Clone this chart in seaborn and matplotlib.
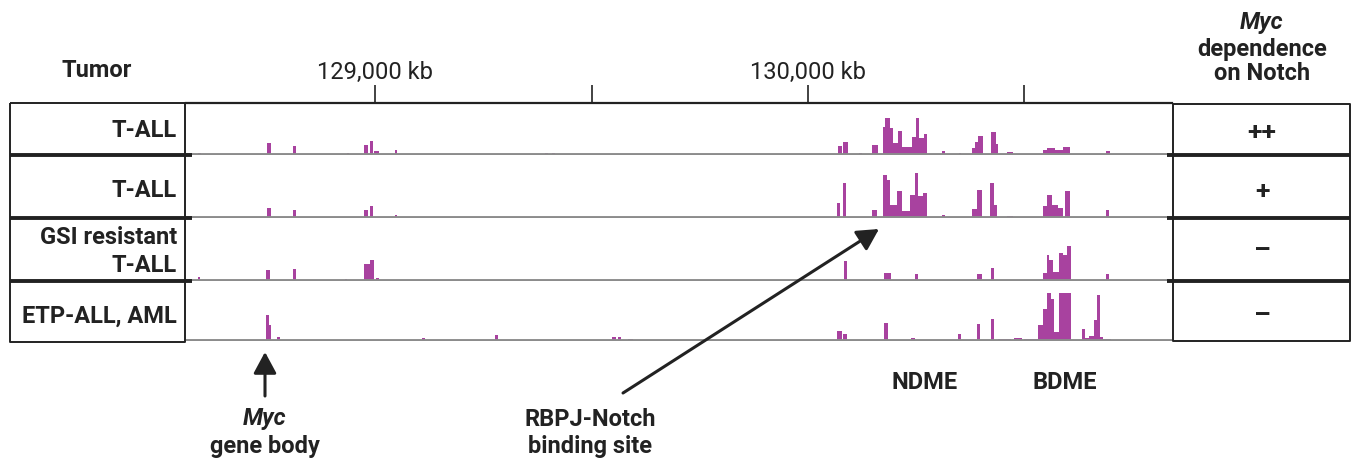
import numpy as np
import pandas as pd
import matplotlib
matplotlib.use("Agg")
import matplotlib.pyplot as plt
import seaborn as sns

# row labels / right column
tumors = ["T-ALL", "T-ALL", "GSI resistant\nT-ALL", "ETP-ALL, AML"]
dependence = ["++", "+", "\u2013", "\u2013"]

# genome ruler (kb)
tick_kb = [129000, 129500, 130000, 130500]
tick_labels = ["129,000 kb", "", "130,000 kb", ""]
view_kb = (128563, 130841)

# peaks per track: (start kb, end kb, signal)
peaks_tall_1 = [
    (128591, 128598, 2), (128751, 128760, 12), (128811, 128818, 9), (128935, 128940, 2),
    (128975, 128984, 10), (128988, 128995, 14), (128997, 129010, 4), (129046, 129051, 5),
    (129393, 129400, 2), (129408, 129416, 2),
    (130069, 130078, 9), (130081, 130092, 13), (130118, 130125, 2), (130148, 130162, 10),
    (130173, 130178, 28), (130178, 130189, 37), (130189, 130196, 27), (130196, 130208, 12),
    (130208, 130217, 24), (130217, 130240, 8), (130240, 130249, 18), (130249, 130256, 37),
    (130256, 130268, 17), (130268, 130275, 21), (130310, 130316, 4), (130349, 130354, 2),
    (130379, 130386, 7), (130386, 130393, 13), (130393, 130404, 19), (130423, 130434, 23),
    (130434, 130439, 11), (130460, 130473, 3), (130543, 130552, 5), (130552, 130570, 7),
    (130570, 130589, 5), (130589, 130605, 8), (130688, 130697, 4),
]
peaks_tall_2 = [
    (128596, 128600, 1), (128751, 128760, 10), (128811, 128818, 8), (128975, 128984, 8),
    (128988, 128995, 12), (129046, 129051, 3),
    (130067, 130074, 15), (130081, 130088, 35), (130148, 130159, 8), (130173, 130182, 43),
    (130182, 130189, 38), (130189, 130206, 13), (130206, 130217, 27), (130217, 130236, 7),
    (130236, 130247, 23), (130247, 130254, 45), (130254, 130266, 22), (130266, 130275, 25),
    (130310, 130316, 3), (130379, 130390, 9), (130390, 130402, 28), (130420, 130430, 35),
    (130430, 130437, 13), (130460, 130473, 2), (130543, 130552, 12), (130552, 130564, 23),
    (130564, 130577, 13), (130577, 130589, 10), (130594, 130605, 27), (130688, 130695, 8),
]
peaks_gsi = [
    (128591, 128596, 4), (128748, 128757, 11), (128811, 128816, 12), (128931, 128935, 2),
    (128975, 128988, 17), (128988, 128998, 21), (129003, 129008, 3),
    (130083, 130090, 20), (130176, 130192, 8), (130247, 130254, 7), (130390, 130402, 7),
    (130422, 130429, 13), (130543, 130552, 8), (130552, 130557, 26), (130557, 130566, 21),
    (130566, 130580, 9), (130580, 130589, 28), (130589, 130598, 26), (130598, 130607, 35),
    (130688, 130695, 7),
]
peaks_etp = [
    (128748, 128755, 26), (128755, 128760, 16), (128774, 128781, 4), (128931, 128935, 1),
    (128990, 129012, 1), (129062, 129066, 1), (129109, 129115, 3), (129196, 129200, 1),
    (129277, 129284, 6), (129510, 129516, 1), (129548, 129556, 4), (129560, 129568, 4),
    (129585, 129595, 2), (129670, 129680, 1),
    (130067, 130079, 10), (130081, 130090, 7), (130176, 130185, 18), (130238, 130247, 3),
    (130346, 130353, 7), (130390, 130397, 17), (130423, 130430, 22), (130440, 130470, 2),
    (130475, 130495, 3), (130500, 130531, 2), (130531, 130543, 16), (130543, 130552, 32),
    (130552, 130561, 48), (130561, 130568, 42), (130568, 130580, 9), (130580, 130607, 48),
    (130633, 130640, 12), (130640, 130649, 3), (130649, 130661, 5), (130661, 130667, 21),
    (130667, 130674, 46), (130674, 130681, 4), (130681, 130700, 2),
]
tracks = [peaks_tall_1, peaks_tall_2, peaks_gsi, peaks_etp]

PEAK = "#a8429f"
BASE = "#8c8c8c"
INK = "#222222"
FS = 17

sns.set_style("white")
plt.rcParams["font.family"] = ["Roboto", "DejaVu Sans"]

W, H = 1357, 468
fig = plt.figure(figsize=(W / 100, H / 100), dpi=100)


def box(x0, y0, x1, y1):
    return [x0 / W, 1 - y1 / H, (x1 - x0) / W, (y1 - y0) / H]


row_top = [103, 155, 218, 281]
row_bot = [155, 218, 281, 341]

for i, peaks in enumerate(tracks):
    ax = fig.add_axes(box(186, row_top[i], 1172, row_bot[i]))
    ax.patch.set_alpha(0)
    df = pd.DataFrame(peaks, columns=["start", "end", "signal"])
    df["mid"] = (df["start"] + df["end"]) / 2
    edges = sorted(set(df["start"]) | set(df["end"]))
    sns.histplot(data=df, x="mid", weights="signal", bins=edges, element="step",
                 fill=True, color=PEAK, alpha=1, linewidth=0, ax=ax)
    ax.axhline(0, color=BASE, lw=2.8, zorder=3)
    ax.set_xlim(view_kb)
    ax.set_ylim(0, row_bot[i] - row_top[i])
    ax.set_xlabel("")
    ax.set_ylabel("")
    ax.set_yticks([])
    for s in ax.spines.values():
        s.set_visible(False)
    if i == 0:
        ax.spines["top"].set_visible(True)
        ax.spines["top"].set_color(INK)
        ax.spines["top"].set_linewidth(1.6)
        ax.xaxis.set_ticks_position("top")
        ax.set_xticks(tick_kb)
        ax.set_xticklabels(tick_labels)
        ax.tick_params(axis="x", direction="out", length=13, width=1.2,
                       pad=1, labelsize=FS, colors=INK)
    else:
        ax.set_xticks([])

# table frame, labels and annotations in pixel space
ov = fig.add_axes([0, 0, 1, 1], zorder=5)
ov.patch.set_alpha(0)
ov.set_xlim(0, W)
ov.set_ylim(H, 0)
ov.axis("off")

k = dict(color=INK, solid_capstyle="butt")
ov.plot([10, 185, 185, 10, 10], [103, 103, 342, 342, 103], lw=1.4, **k)
ov.plot([1173, 1350, 1350, 1173, 1173], [104, 104, 341, 341, 104], lw=1.4, **k)
for y in row_bot[:3]:
    ov.plot([10, 192], [y, y], lw=2.8, **k)
    ov.plot([1167, 1350], [y, y], lw=2.8, **k)

txt = dict(color=INK, ha="center", va="baseline", fontweight="bold", fontsize=FS)
ov.text(97, 77, "Tumor", **txt)
ov.text(1262, 29, "Myc", style="italic", **txt)
ov.text(1262, 56, "dependence", **txt)
ov.text(1262, 80, "on Notch", **txt)

label_base = [137, 197, 272, 323]
dep_y = [133, 192, 251, 316]
for lab, dep, yb, yd in zip(tumors, dependence, label_base, dep_y):
    ov.text(177, yb, lab, fontsize=FS, fontweight="bold", color=INK,
            ha="right", va="baseline", linespacing=1.25)
    ov.text(1262, yd, dep, color=INK, ha="center", va="center",
            fontweight="bold", fontsize=FS + 2)

ov.text(925, 389, "NDME", **txt)
ov.text(1065, 389, "BDME", **txt)
ov.text(265, 425, "Myc", style="italic", **txt)
ov.text(265, 453, "gene body", **txt)
ov.text(590, 426, "RBPJ-Notch", **txt)
ov.text(590, 453, "binding site", **txt)

arrow = dict(arrowstyle="-|>,head_length=1.3,head_width=0.7", lw=2.2,
             color=INK, shrinkA=0, shrinkB=0)
ov.annotate("", xy=(265, 352), xytext=(265, 396), arrowprops=arrow)
ov.annotate("", xy=(879, 229), xytext=(623, 393), arrowprops=arrow)

fig.savefig("out.png", dpi=100)
